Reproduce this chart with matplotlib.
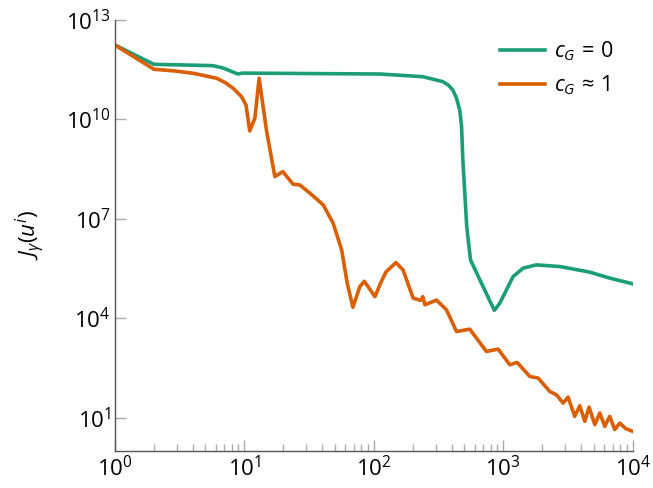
import matplotlib
matplotlib.use('Agg')
import matplotlib.pyplot as plt
import numpy as np

plt.rcParams['font.family'] = ['Open Sans', 'DejaVu Sans']
plt.rcParams['mathtext.fontset'] = 'custom'
plt.rcParams['mathtext.rm'] = 'Open Sans'
plt.rcParams['mathtext.it'] = 'Open Sans:italic'
plt.rcParams['mathtext.bf'] = 'Open Sans:bold'

# c_G = 0
x_zero = [1, 2, 5.7, 6.8, 8.9, 9.7, 111, 239, 341, 375, 407, 435, 461, 476, 487,
          522, 558, 659, 853, 940, 1028, 1191, 1422, 1803, 2730, 4650, 6640, 10000]
y_zero = [1.76e12, 4.6e11, 4.2e11, 3.6e11, 2.35e11, 2.5e11, 2.35e11, 1.95e11, 1.38e11,
          1.1e11, 7.8e10, 4.4e10, 1.9e10, 6.1e9, 6.0e8, 5.8e6, 5.8e5, 1.45e5, 1.74e4,
          2.88e4, 5.75e4, 1.82e5, 3.26e5, 4.1e5, 3.65e5, 2.48e5, 1.63e5, 1.1e5]

# c_G ~ 1
x_one = [1, 2, 2.9, 4.03, 6.1, 7.07, 8.2, 9.5, 10.3, 11.0, 12.05, 13.0, 14.8, 17.2,
         19.8, 23.8, 26.8, 32.1, 40.6, 48.5, 56.4, 62.3, 68.9, 78, 84.5, 102, 113,
         124, 148, 168, 201, 229, 239, 248, 305, 364, 435, 551, 741, 912, 1122, 1279,
         1603, 1858, 2287, 2577, 2897, 3165, 3563, 3898, 4259, 4600, 5090, 5565,
         6080, 6640, 7260, 7940, 8840, 10000]
y_one = [1.76e12, 3.27e11, 2.9e11, 2.47e11, 1.75e11, 1.31e11, 8.7e10, 4.9e10, 2.7e10,
         4.5e9, 1.09e10, 1.75e11, 4.8e9, 1.89e8, 2.67e8, 1.11e8, 1.06e8, 5.96e7,
         2.65e7, 7.4e6, 1.16e6, 1.15e5, 2.15e4, 9.1e4, 1.31e5, 4.5e4, 1.18e5, 2.5e5,
         4.8e5, 2.9e5, 4.1e4, 3.45e4, 4.5e4, 2.56e4, 3.55e4, 1.8e4, 4.0e3, 4.7e3,
         1.0e3, 1.18e3, 397, 466, 176, 158, 62, 49, 27.8, 42, 11, 23, 7.8, 21, 6.2,
         13.9, 5.5, 11, 4.4, 6.9, 4.7, 3.9]

green = '#1b9e77'
orange = '#d95f02'

fig = plt.figure(figsize=(6.53, 4.88), dpi=100)
ax = fig.add_axes([0.176, 0.076, 0.793, 0.883])

ax.plot(x_zero, y_zero, color=green, lw=2.6, label=r'$c_G\,=\,0$')
ax.plot(x_one, y_one, color=orange, lw=2.6, label=r'$c_G\,\approx\,1$')

ax.set_xscale('log')
ax.set_yscale('log')
ax.set_xlim(1, 1e4)
ax.set_ylim(1, 1e13)
ax.set_yticks([1e1, 1e4, 1e7, 1e10, 1e13])
ax.yaxis.set_minor_locator(matplotlib.ticker.NullLocator())

for side in ['top', 'right']:
    ax.spines[side].set_visible(False)
for side in ['left', 'bottom']:
    ax.spines[side].set_color('#555555')
    ax.spines[side].set_linewidth(1.0)

ax.tick_params(which='major', direction='in', length=8, width=1, color='#aaaaaa',
               labelsize=16, pad=4)
ax.tick_params(which='minor', direction='in', length=5, width=1, color='#aaaaaa')
ax.tick_params(axis='y', pad=3)

ax.set_ylabel(r'$J_\gamma(u^i)$', fontsize=16, labelpad=14)

ax.legend(loc='upper right', frameon=False, fontsize=15.5, handlelength=2.1,
          handletextpad=0.4, labelspacing=0.5, borderaxespad=0.5,
          bbox_to_anchor=(1.0, 1.0))

fig.savefig('out.png', dpi=100)
